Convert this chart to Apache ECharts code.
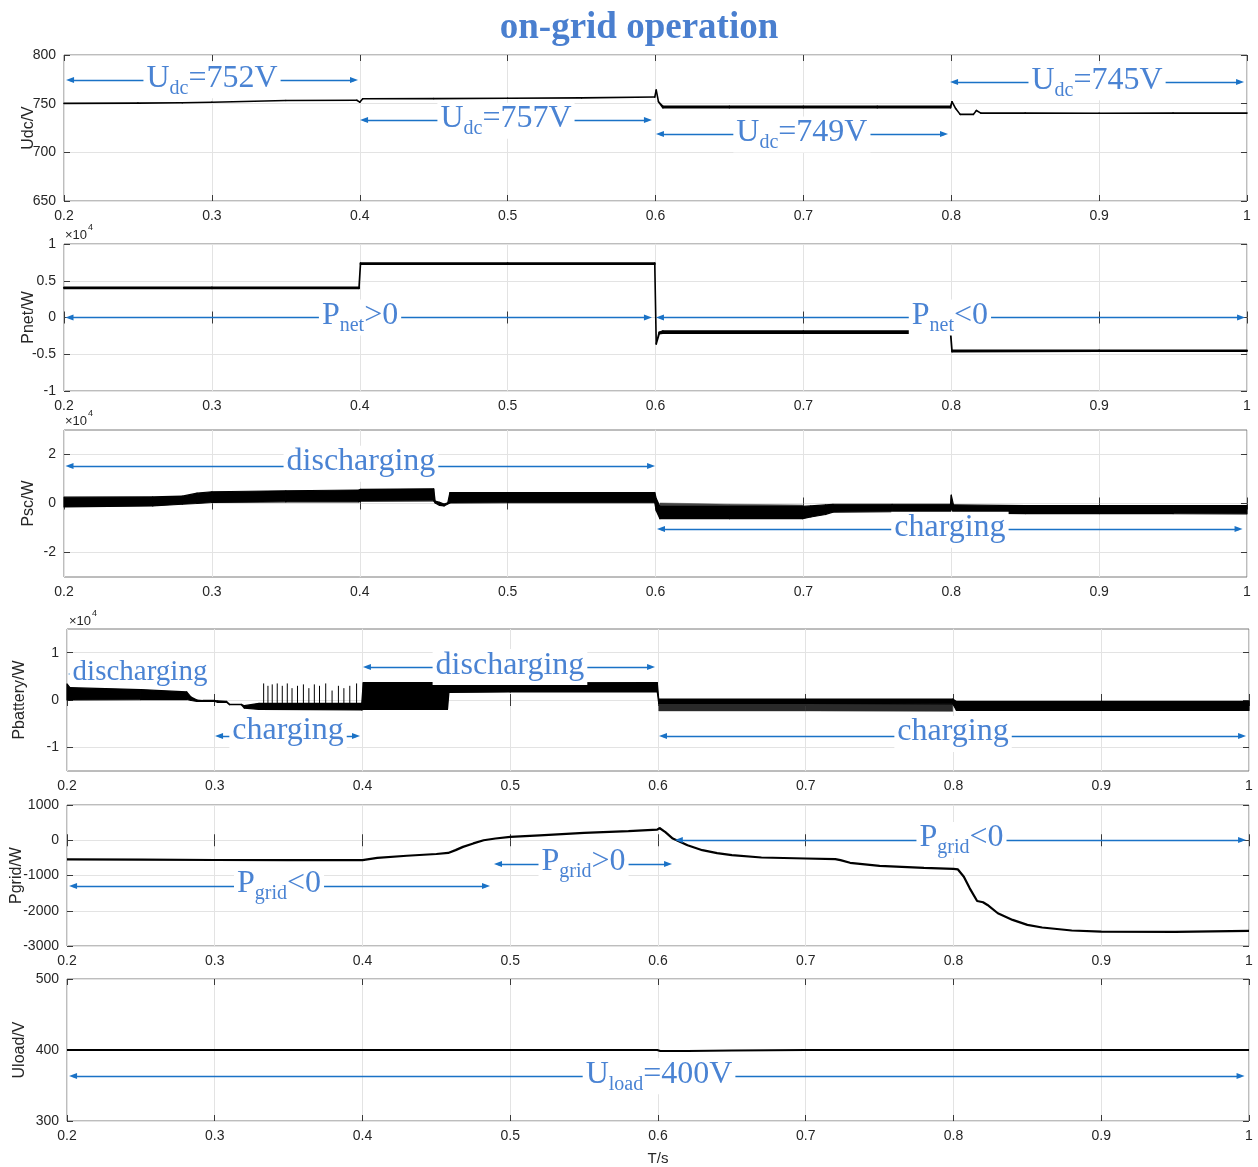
<!DOCTYPE html>
<html>
<head>
<meta charset="utf-8">
<title>on-grid operation</title>
<script src="https://cdn.jsdelivr.net/npm/echarts@6.0.0/dist/echarts.min.js"></script>
<style>
html,body{margin:0;padding:0;background:#ffffff;}
#chart{width:1258px;height:1167px;}
</style>
</head>
<body>
<div id="chart"></div>
<script>
// ===================== DATA =====================
const timeTicks = [0.2, 0.3, 0.4, 0.5, 0.6, 0.7, 0.8, 0.9, 1.0];
const pscTicks  = [-2, 0, 2];      // x10^4
const pbatTicks = [-1, 0, 1];      // x10^4

// Panel 1: Udc (V) - lower / upper envelope
const udcT  = [0.2,0.25,0.28,0.3,0.35, 0.398,0.4,0.402,0.45,0.5, 0.55,0.5995,0.6005,0.602,0.605, 0.65,0.7,0.75,0.7995,0.8005, 0.803,0.806,0.815,0.817,0.82, 0.85,0.9,0.95,1.0];
const udcLo = [750.3,750.6,751,751.5,753.2, 753.5,751.5,755,755.2,755.6, 756,756.8,764,752,745.8, 745.8,745.8,745.8,745.8,752, 745,739,739,743,740.3, 740.3,740.2,740.3,740.3];
const udcHi = [750.3,750.6,751,751.5,753.2, 753.5,751.5,755,755.2,755.6, 756,756.8,764,752,747.2, 747.2,747.2,747.2,747.2,752, 745,739,739,743,740.3, 740.3,740.2,740.3,740.3];

// Panel 2: Pnet (x10^4 W)
const pnetT  = [0.2,0.3,0.3995,0.4005,0.5,0.5995,0.6005,0.6025,0.605,0.7,0.7995,0.8005,0.9,1.0];
const pnetLo = [0.395,0.395,0.395,0.725,0.725,0.725,-0.36,-0.22,-0.215,-0.215,-0.215,-0.465,-0.46,-0.46];
const pnetHi = [0.41,0.41,0.41,0.74,0.74,0.74,-0.36,-0.2,-0.185,-0.185,-0.185,-0.445,-0.445,-0.445];

// Panel 3: Psc (x10^4 W) - dense band envelope
const pscT  = [0.2,0.26,0.28,0.29,0.3, 0.35,0.3995,0.4005,0.45,0.451, 0.454,0.457,0.4595,0.461,0.5, 0.5995,0.6005,0.603,0.65,0.6995, 0.705,0.715,0.72,0.76,0.7995, 0.8,0.8015,0.85,0.9,0.95, 1.0];
const pscHi = [0.26,0.27,0.3,0.42,0.48, 0.52,0.55,0.58,0.6,0.1, 0.05,-0.02,0.03,0.45,0.45, 0.45,0.2,-0.12,-0.12,-0.12, -0.1,-0.06,-0.03,-0.03,-0.03, 0.34,-0.06,-0.09,-0.09,-0.09, -0.09];
const pscLo = [-0.14,-0.1,-0.03,0.0,0.04, 0.07,0.07,0.1,0.11,0.02, -0.08,-0.1,-0.02,0.02,0.03, 0.03,-0.3,-0.62,-0.62,-0.62, -0.55,-0.45,-0.35,-0.33,-0.33, -0.2,-0.38,-0.41,-0.41,-0.41, -0.42];
// Psc sawtooth teeth above the band (0.6 - 0.7)
const pscTeethT  = [0.603,0.65,0.6995];
const pscTeethLo = [-0.12,-0.12,-0.12];
const pscTeethHi = [0.02,-0.03,-0.06];

// Panel 4: Pbattery (x10^4 W)
const pbatT  = [0.2,0.202,0.25,0.281,0.284, 0.288,0.292,0.3,0.302,0.308, 0.31,0.318,0.32,0.33,0.3995, 0.4005,0.4575,0.4585,0.5,0.5995, 0.6005,0.7,0.7995,0.802,0.9, 1.0];
const pbatHi = [0.34,0.26,0.22,0.17,0.06, 0.0,-0.01,-0.01,-0.02,-0.03, -0.09,-0.09,-0.12,-0.07,-0.07, 0.37,0.37,0.36,0.36,0.37, 0.02,0.02,0.02,-0.03,-0.03, -0.03];
const pbatLo = [0.0,0.0,0.01,0.01,-0.01, -0.03,-0.03,-0.03,-0.05,-0.05, -0.1,-0.1,-0.17,-0.2,-0.21, -0.2,-0.2,0.16,0.17,0.17, -0.07,-0.07,-0.08,-0.22,-0.22, -0.22];
// comb teeth below the band (0.6 - 0.8)
const pbatTeethT  = [0.6005,0.7,0.7995];
const pbatTeethLo = [-0.23,-0.23,-0.24];
const pbatTeethHi = [-0.07,-0.07,-0.08];
// individual spikes 0.33 - 0.4
const pbatSpikeT    = [0.3331,0.336,0.3389,0.3423,0.3457,0.3491,0.3523,0.356,0.36,0.3637,0.3674,0.3709,0.3751,0.3794,0.3837,0.3874,0.3914,0.396];
const pbatSpikeV    = [0.35,0.3,0.33,0.35,0.3,0.35,0.25,0.3,0.33,0.25,0.33,0.3,0.35,0.2,0.3,0.25,0.3,0.35];
const pbatSpikeBase = [-0.08];

// Panel 5: Pgrid (W)
const pgridT = [0.2,0.25,0.3,0.35,0.4, 0.41,0.43,0.45,0.458,0.463, 0.468,0.475,0.482,0.49,0.5, 0.52,0.55,0.58,0.5995,0.601, 0.605,0.61,0.62,0.63,0.64, 0.65,0.67,0.7,0.72,0.7235, 0.73,0.75,0.78,0.8,0.803, 0.807,0.811,0.816,0.82,0.823, 0.83,0.84,0.85,0.86,0.88, 0.9,0.95,1.0];
const pgridV = [-545,-552,-560,-565,-565, -500,-440,-390,-360,-280, -188,-90,0,50,94, 140,210,260,300,347, 230,47,-141,-282,-367, -424,-490,-518,-537,-565, -640,-725,-782,-810,-828, -1036,-1365,-1723,-1760,-1836, -2071,-2260,-2401,-2476,-2560, -2590,-2600,-2571];

// Panel 6: Uload (V)
const uloadT = [0.2,0.5995,0.6015,0.62,0.65,0.7,1.0];
const uloadV = [400,400,398.5,398.6,399.3,400,400];

// Annotations: arrows [tStart, tEnd, y], labels
const udcArrows = [[0.2014,0.3988,774.3],[0.4002,0.5976,733.2],[0.6003,0.7978,718.8],[0.7992,0.998,772.3]];
const udcLabels = [
  {pre:'U', sub:'dc', post:'=752V', t:0.3001, y:774},
  {pre:'U', sub:'dc', post:'=757V', t:0.4989, y:732.5},
  {pre:'U', sub:'dc', post:'=749V', t:0.699,  y:718.3},
  {pre:'U', sub:'dc', post:'=745V', t:0.8986, y:772}
];
const pnetArrows = [[0.201,0.5976,0],[0.6003,0.9987,0]];
const pnetLabels = [
  {pre:'P', sub:'net', post:'>0', t:0.4002, y:0},
  {pre:'P', sub:'net', post:'<0', t:0.7991, y:0}
];
const pscArrows = [[0.201,0.5997,1.53],[0.601,0.997,-1.04]];
const pscLabels = [
  {pre:'discharging', t:0.4008, y:1.62},
  {pre:'charging',    t:0.7991, y:-1.07}
];
const pbatArrows = [[0.2007,0.2961,0.549],[0.3002,0.3983,-0.761],[0.4003,0.598,0.697],[0.6007,0.998,-0.761]];
const pbatLabels = [
  {pre:'discharging', t:0.2494, y:0.583, small:true},
  {pre:'charging',    t:0.3496, y:-0.69},
  {pre:'discharging', t:0.4998, y:0.695},
  {pre:'charging',    t:0.7997, y:-0.72}
];
const pgridArrows = [[0.2014,0.4863,-1298],[0.489,0.6095,-674],[0.6114,0.998,7]];
const pgridLabels = [
  {pre:'P', sub:'grid', post:'<0', t:0.3435, y:-1298},
  {pre:'P', sub:'grid', post:'>0', t:0.5496, y:-674},
  {pre:'P', sub:'grid', post:'<0', t:0.8054, y:7}
];
const uloadArrows = [[0.2014,0.997,363.4]];
const uloadLabels = [{pre:'U', sub:'load', post:'=400V', t:0.6007, y:363}];

// ===================== LAYOUT & STYLE =====================
const TXT_BLUE = '#4a83d3';
const ARR_BLUE = '#1a72c6';
const AX_TXT = '#262626';
const GRID_LINE = '#e3e3e3';
const SANS = 'Liberation Sans';
const SERIF = 'Liberation Serif';
const ARROW_INSET = 0.0027;

const gridBoxes = [
  {left:64, right:11, top:55,  height:146},
  {left:64, right:11, top:244, height:147},
  {left:64, right:11, top:430, height:147},
  {left:67, right:9,  top:629, height:142},
  {left:67, right:9,  top:805, height:141},
  {left:67, right:9,  top:979, height:142}
];
const panels = [
  {name:'Udc/V',      min:650,   max:800,  interval:50,   nameGap:27},
  {name:'Pnet/W',     min:-1,    max:1,    interval:0.5,  nameGap:27},
  {name:'Psc/W',      min:-3,    max:3,    ticks:pscTicks, nameGap:27},
  {name:'Pbattery/W', min:-1.5,  max:1.5,  ticks:pbatTicks, nameGap:39},
  {name:'Pgrid/W',    min:-3000, max:1000, interval:1000, nameGap:42},
  {name:'Uload/V',    min:300,   max:500,  interval:100,  nameGap:39}
];

function fmtNum(v){ return String(Math.round(v*100)/100); }

function xAxisPair(gi, last){
  const mk = (bottom) => ({
    gridIndex:gi, type:'value', min:timeTicks[0], max:timeTicks[timeTicks.length-1], interval:0.1,
    position: bottom ? 'bottom' : 'top',
    axisLine:{show:false},
    axisTick:{show:true, inside:true, length:6, lineStyle:{color:'#3a3a3a', width:1}},
    axisLabel:{show:bottom, margin:8, color:AX_TXT, fontSize:14, fontFamily:SANS,
               formatter:(v)=>String(Math.round(v*10)/10)},
    splitLine:{show:bottom, lineStyle:{color:GRID_LINE, width:1}},
    name:(bottom && last) ? 'T/s' : '', nameLocation:'middle', nameGap:30, nameMoveOverlap:false,
    nameTextStyle:{color:AX_TXT, fontSize:15, fontFamily:SANS}
  });
  return [mk(true), mk(false)];
}
function yAxisPair(gi, p){
  const mk = (left) => {
    const ax = {
      gridIndex:gi, type:'value', min:p.min, max:p.max, position: left ? 'left' : 'right',
      axisLine:{show:false},
      axisTick:{show:true, inside:true, length:6, lineStyle:{color:'#3a3a3a', width:1}},
      axisLabel:{show:left, margin:8, color:AX_TXT, fontSize:14, fontFamily:SANS, formatter:fmtNum},
      splitLine:{show:left, lineStyle:{color:GRID_LINE, width:1}},
      name: left ? p.name : '', nameLocation:'middle', nameGap:p.nameGap, nameMoveOverlap:false,
      nameTextStyle:{color:AX_TXT, fontSize:16, fontFamily:SANS}
    };
    if (p.ticks) { ax.axisTick.customValues = p.ticks; ax.axisLabel.customValues = p.ticks; }
    else { ax.interval = p.interval; }
    return ax;
  };
  return [mk(true), mk(false)];
}

function makeBand(gi, t, lo, hi, color, lw){
  return {
    type:'custom', xAxisIndex:gi*2, yAxisIndex:gi*2, silent:true, animation:false, z:2,
    data: t.map((x,i)=>[x, lo[i], hi[i]]),
    encode:{x:0, y:[1,2]},
    renderItem(params, api){
      const i = params.dataIndexInside;
      if (i >= params.dataInsideLength - 1) return null;
      const p = (k, d) => api.coord([api.value(0, k), api.value(d, k)]);
      return {type:'polygon', shape:{points:[p(i,1), p(i+1,1), p(i+1,2), p(i,2)]},
              style:{fill:color, stroke:color, lineWidth:lw, lineJoin:'round'}};
    }
  };
}
function makeSpikes(gi, t, base, peak, color, lw){
  return {
    type:'custom', xAxisIndex:gi*2, yAxisIndex:gi*2, silent:true, animation:false, z:2,
    data: t.map((x,i)=>[x, base[0], peak[i]]),
    encode:{x:0, y:[1,2]},
    renderItem(params, api){
      const a = api.coord([api.value(0), api.value(1)]);
      const b = api.coord([api.value(0), api.value(2)]);
      return {type:'line', shape:{x1:a[0], y1:a[1], x2:b[0], y2:b[1]}, style:{stroke:color, lineWidth:lw}};
    }
  };
}
function makeLine(gi, t, v, lw){
  return {
    type:'line', xAxisIndex:gi*2, yAxisIndex:gi*2, silent:true, animation:false, z:2,
    data: t.map((x,i)=>[x, v[i]]), showSymbol:false, symbol:'none',
    lineStyle:{color:'#000', width:lw}
  };
}
function labelText(l){
  const st = l.small ? 'n' : 'm';
  let s = '{' + st + '|' + l.pre + '}';
  if (l.sub) s += '{s|' + l.sub + '}{m|' + l.post + '}';
  return s;
}
function makeAnnot(gi, arrows, labels){
  return {
    type:'line', xAxisIndex:gi*2, yAxisIndex:gi*2, data:[], silent:true, animation:false,
    markLine:{
      silent:true, animation:false, z:5,
      symbol:['triangle','triangle'], symbolSize:[6,8],
      label:{show:false}, emphasis:{disabled:true},
      lineStyle:{color:ARR_BLUE, width:1.3, type:'solid'},
      itemStyle:{color:ARR_BLUE},
      data: arrows.map(a=>[{coord:[a[0]+ARROW_INSET, a[2]]},{coord:[a[1]-ARROW_INSET, a[2]]}])
    },
    markPoint:{
      silent:true, animation:false, z:6,
      symbol:'rect', symbolSize:0,
      label:{
        show:true, position:'inside', backgroundColor:'#ffffff', padding:[0,3],
        color:TXT_BLUE, fontFamily:SERIF,
        rich:{
          m:{fontFamily:SERIF, fontSize:32, lineHeight:36, verticalAlign:'top', color:TXT_BLUE},
          n:{fontFamily:SERIF, fontSize:29, lineHeight:26, color:TXT_BLUE},
          s:{fontFamily:SERIF, fontSize:20, lineHeight:20, verticalAlign:'bottom', color:TXT_BLUE}
        }
      },
      emphasis:{disabled:true},
      data: labels.map(l=>({coord:[l.t, l.y], value:0, label:{formatter:labelText(l)}}))
    }
  };
}

// ===================== BUILD OPTION =====================
const xAxes = [], yAxes = [];
for (let gi = 0; gi < 6; gi++) {
  xAxes.push(...xAxisPair(gi, gi === 5));
  yAxes.push(...yAxisPair(gi, panels[gi]));
}

const series = [
  makeBand(0, udcT, udcLo, udcHi, '#000', 1.6),
  makeBand(1, pnetT, pnetLo, pnetHi, '#000', 1.6),
  makeBand(2, pscTeethT, pscTeethLo, pscTeethHi, '#444', 0.5),
  makeBand(2, pscT, pscLo, pscHi, '#000', 1.2),
  makeBand(3, pbatTeethT, pbatTeethLo, pbatTeethHi, '#2a2a2a', 0.5),
  makeBand(3, pbatT, pbatLo, pbatHi, '#000', 1.2),
  makeSpikes(3, pbatSpikeT, pbatSpikeBase, pbatSpikeV, '#000', 1),
  makeLine(4, pgridT, pgridV, 2.2),
  makeLine(5, uloadT, uloadV, 2),
  makeAnnot(0, udcArrows, udcLabels),
  makeAnnot(1, pnetArrows, pnetLabels),
  makeAnnot(2, pscArrows, pscLabels),
  makeAnnot(3, pbatArrows, pbatLabels),
  makeAnnot(4, pgridArrows, pgridLabels),
  makeAnnot(5, uloadArrows, uloadLabels)
];

function expLabel(x, y){
  return [
    {type:'text', x:x, y:y, silent:true,
     style:{text:'\u00d710', font:'13px "' + SANS + '"', fill:AX_TXT, align:'left', verticalAlign:'middle'}},
    {type:'text', x:x+23, y:y-7, silent:true,
     style:{text:'4', font:'9px "' + SANS + '"', fill:AX_TXT, align:'left', verticalAlign:'middle'}}
  ];
}

const option = {
  animation:false,
  backgroundColor:'#ffffff',
  textStyle:{fontFamily:SANS},
  grid: gridBoxes.map(g=>Object.assign({}, g, {show:true, borderColor:'#7a7a7a', borderWidth:1,
        backgroundColor:'transparent', containLabel:false, outerBoundsMode:'none'})),
  xAxis: xAxes,
  yAxis: yAxes,
  series: series,
  graphic: [
    {type:'text', x:639, y:28, silent:true,
     style:{text:'on-grid operation', font:'bold 37px "' + SERIF + '"', fill:'#4a7fcf', align:'center', verticalAlign:'middle'}},
    ...expLabel(65, 235),
    ...expLabel(65, 421),
    ...expLabel(69, 621)
  ]
};

const chart = echarts.init(document.getElementById('chart'), null, {renderer:'canvas'});
chart.setOption(option);
</script>
</body>
</html>
